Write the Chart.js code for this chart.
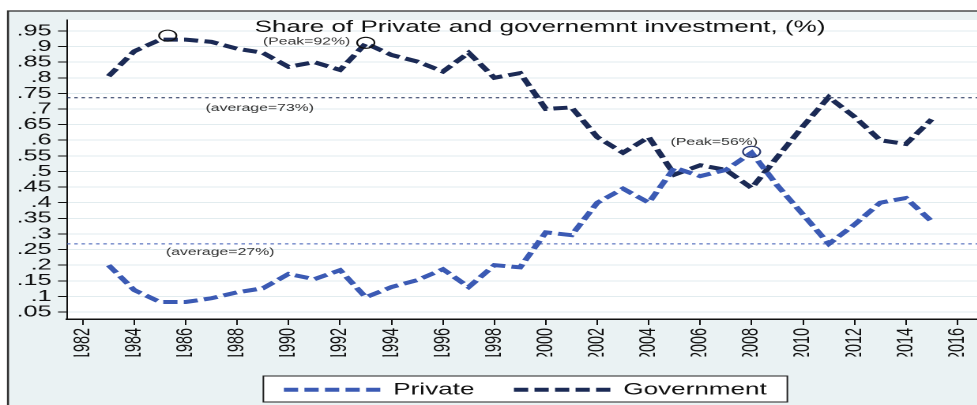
<!DOCTYPE html>
<html>
<head>
<meta charset="utf-8">
<script src="https://cdn.jsdelivr.net/npm/chart.js@4.4.1/dist/chart.umd.min.js"></script>
<style>
html,body{margin:0;padding:0;overflow:hidden;background:#fff;width:977px;height:405px}
#wrap{position:absolute;left:0;top:0;width:660px;height:408px;transform:scaleX(1.58);transform-origin:0 0}
</style>
</head>
<body>
<div id="wrap"><canvas id="c" width="660" height="408"></canvas></div>
<script>
// ---- data ----
const years = [1983,1984,1985,1986,1987,1988,1989,1990,1991,1992,1993,1994,1995,1996,1997,1998,1999,2000,2001,2002,2003,2004,2005,2006,2007,2008,2009,2010,2011,2012,2013,2014,2015];
const privateShare = [.200,.120,.082,.082,.094,.113,.126,.172,.155,.184,.097,.130,.152,.187,.130,.200,.193,.305,.296,.400,.445,.400,.512,.485,.505,.560,.455,.362,.268,.330,.400,.415,.340];
const governmentShare = [.805,.885,.922,.922,.915,.893,.880,.835,.850,.825,.910,.873,.852,.820,.880,.800,.815,.700,.705,.610,.560,.610,.490,.520,.505,.447,.546,.645,.738,.675,.600,.588,.667];
const seriesNames = ["Private","Government"];
const averageGovernment = 0.736;
const averagePrivate = 0.268;
const peakYears = [1985.3, 1993, 2008];
const peakValues = [0.935, 0.912, 0.563];
const noteTexts = ["(Peak=92%)","(average=73%)","(average=27%)","(Peak=56%)"];
const noteYears = [1989.0, 1986.77, 1985.23, 2004.85];
const noteValues = [0.915, 0.703, 0.242, 0.594];
const titleText = "Share of Private and governemnt investment, (%)";
const xMin = 1981.384, xMax = 2018.915, yMin = 0.0276, yMax = 0.985;

const FONT = "'Liberation Sans', Arial, Helvetica, sans-serif";
const BLUE = "#3b5ab4", NAVY = "#1b2a55", BG = "#eaf2f3";
const DASH = [9, 4];

function legendFrame(chart) {
  const hb = chart.legend && chart.legend.legendHitBoxes;
  if (!hb || !hb.length) return null;
  const l = hb[0].left - 13;
  const r = hb[hb.length - 1].left + hb[hb.length - 1].width + 13;
  return {l, r, t: 376, h: 26};
}

const framePlugin = {
  id: 'frame',
  beforeDraw(chart) {
    const {ctx, chartArea: a, width, height} = chart;
    ctx.save();
    ctx.fillStyle = '#fff';
    ctx.fillRect(0, 0, width, height);
    ctx.fillStyle = BG;
    ctx.fillRect(5.06, 11, width, height);
    ctx.strokeStyle = '#2b2b2b';
    ctx.lineWidth = 1.3;
    ctx.beginPath();
    ctx.moveTo(5.06, height + 5); ctx.lineTo(5.06, 11); ctx.lineTo(width + 5, 11);
    ctx.stroke();
    ctx.fillStyle = '#fff';
    ctx.fillRect(a.left, a.top, a.right - a.left, a.bottom - a.top);
    const f = legendFrame(chart);
    if (f) {
      ctx.fillStyle = '#fff';
      ctx.fillRect(f.l, f.t, f.r - f.l, f.h);
      ctx.strokeStyle = '#222';
      ctx.lineWidth = 1;
      ctx.strokeRect(f.l, f.t, f.r - f.l, f.h);
    }
    ctx.restore();
  },
  afterDatasetsDraw(chart) {
    const {ctx, scales: {x, y}} = chart;
    ctx.save();
    ctx.font = "10px " + FONT;
    ctx.fillStyle = '#333';
    ctx.textAlign = 'left';
    ctx.textBaseline = 'middle';
    noteTexts.forEach((t, i) => {
      ctx.fillText(t, x.getPixelForValue(noteYears[i]), y.getPixelForValue(noteValues[i]));
    });
    ctx.restore();
  },
  afterDraw(chart) {
    const {ctx} = chart;
    ctx.save();
    ctx.font = "16.5px " + FONT;
    ctx.fillStyle = '#111';
    ctx.textAlign = 'center';
    ctx.textBaseline = 'alphabetic';
    ctx.fillText(titleText, 341.8, 32);
    ctx.restore();
  }
};

const mk = (vals) => years.map((yr, i) => ({x: yr, y: vals[i]}));

new Chart(document.getElementById('c'), {
  type: 'line',
  data: {
    datasets: [
      {label: seriesNames[0], data: mk(privateShare), borderColor: BLUE, backgroundColor: BLUE, borderWidth: 4, borderDash: DASH, borderCapStyle: 'butt', pointRadius: 0, tension: 0, fill: false, order: 1},
      {label: seriesNames[1], data: mk(governmentShare), borderColor: NAVY, backgroundColor: NAVY, borderWidth: 4, borderDash: DASH, borderCapStyle: 'butt', pointRadius: 0, tension: 0, fill: false, order: 2},
      {label: 'avgG', data: [{x: xMin, y: averageGovernment}, {x: xMax, y: averageGovernment}], borderColor: NAVY, borderWidth: 1, borderDash: [2.2, 2.4], pointRadius: 0, fill: false, order: 5},
      {label: 'avgP', data: [{x: xMin, y: averagePrivate}, {x: xMax, y: averagePrivate}], borderColor: BLUE, borderWidth: 1, borderDash: [2.2, 2.4], pointRadius: 0, fill: false, order: 5},
      {label: 'peaks', data: peakYears.map((p, i) => ({x: p, y: peakValues[i]})), showLine: false, pointRadius: 5.5, pointBorderColor: ['#111', '#111', '#2a3a70'], pointBackgroundColor: 'rgba(0,0,0,0)', pointBorderWidth: 1.1, order: 0}
    ]
  },
  options: {
    responsive: false,
    devicePixelRatio: 2,
    animation: false,
    layout: {padding: {left: 5, top: 20, right: 0, bottom: 0}},
    plugins: {
      title: {display: false},
      tooltip: {enabled: false},
      legend: {
        position: 'bottom',
        align: 'center',
        labels: {
          usePointStyle: true,
          pointStyle: 'line',
          pointStyleWidth: 61,
          padding: 25,
          color: '#111',
          font: {family: FONT, size: 16.5},
          generateLabels: (chart) => Chart.defaults.plugins.legend.labels.generateLabels(chart).map((it) => {
            const ds = chart.data.datasets[it.datasetIndex];
            return Object.assign({}, it, {lineDash: ds.borderDash, lineWidth: ds.borderWidth, strokeStyle: ds.borderColor, lineCap: 'butt'});
          }),
          filter: (item) => item.datasetIndex < 2
        }
      }
    },
    scales: {
      x: {
        type: 'linear',
        min: xMin, max: xMax,
        afterFit: (s) => { s.height = 37.5; },
        border: {display: true, color: '#111', width: 1.5},
        grid: {display: true, drawOnChartArea: false, drawTicks: true, tickLength: 6, tickColor: '#111', tickWidth: 1},
        ticks: {
          stepSize: 2, includeBounds: false, autoSkip: false,
          maxRotation: 90, minRotation: 90, padding: 3,
          color: '#111', font: {family: FONT, size: 14.4},
          callback: (v) => String(v)
        }
      },
      y: {
        type: 'linear',
        min: yMin, max: yMax,
        afterFit: (s) => { s.width = 37.4; },
        border: {display: true, color: '#111', width: 1},
        grid: {display: true, drawOnChartArea: true, color: '#e2ecef', lineWidth: 1, drawTicks: true, tickLength: 5.7, tickColor: '#111', tickWidth: 1},
        ticks: {
          stepSize: 0.05, includeBounds: false, padding: 4, autoSkip: false,
          color: '#111', font: {family: FONT, size: 16},
          callback: (v) => (+v.toFixed(2)).toString().replace(/^0\./, '.')
        }
      }
    }
  },
  plugins: [framePlugin]
});
</script>
</body>
</html>
